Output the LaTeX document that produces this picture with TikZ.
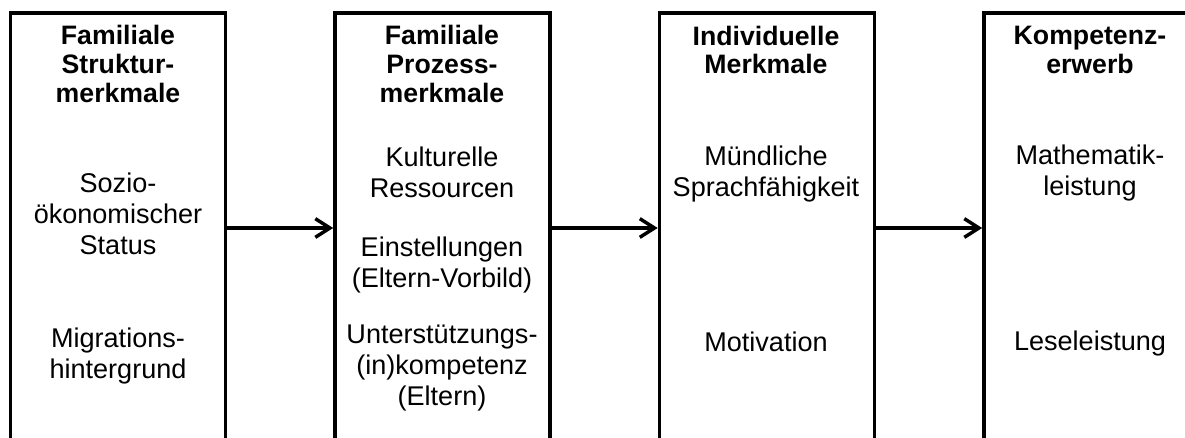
\documentclass[tikz,border=0pt]{standalone}
\usepackage{fontspec}
\setmainfont{Liberation Sans}
\usetikzlibrary{arrows.meta}
\begin{document}
\begin{tikzpicture}[x=0.75pt,y=-0.75pt,
  box/.style={draw, line width=2.7pt, minimum width=161.25pt, minimum height=322.5pt, inner sep=0pt},
  head/.style={font=\fontsize{20}{21.4}\selectfont\bfseries, align=center, inner sep=0pt},
  body/.style={font=\fontsize{20.3}{23.25}\selectfont, align=center, inner sep=0pt},
  arr/.style={line width=2.6pt, -{Straight Barb[length=11pt,width=14pt,line width=2.6pt]}}]
\useasboundingbox (0,0) rectangle (1185,438);
\clip (0,0) rectangle (1185,438);
% boxes
\node[box] (b1) at (118,228) {};
\node[box] (b2) at (442.5,228) {};
\node[box] (b3) at (767,228) {};
\node[box] (b4) at (1091.5,228) {};
% arrows
\draw[arr] (b1.east) -- (b2.west);
\draw[arr] (b2.east) -- (b3.west);
\draw[arr] (b3.east) -- (b4.west);
% box 1
\node[head] (h1) at (118,64) {Familiale\\Struktur-\\merkmale};
\node[body] (t11) at (118,214) {Sozio-\\ökonomischer\\Status};
\node[body] (t12) at (118,356) {Migrations-\\hintergrund};
% box 2
\node[head] (h2) at (442,64) {Familiale\\Prozess-\\merkmale};
\node[body] (t21) at (442,172) {Kulturelle\\Ressourcen};
\node[body] (t22) at (442,265) {Einstellungen\\(Eltern-Vorbild)};
\node[body] (t23) at (442,368) {Unterstützungs-\\(in)kompetenz\\(Eltern)};
% box 3
\node[head] (h3) at (766,50) {Individuelle\\Merkmale};
\node[body] (t31) at (766,174) {Mündliche\\Sprachfähigkeit};
\node[body] (t32) at (766,342) {Motivation};
% box 4
\node[head] (h4) at (1090,50) {Kompetenz-\\erwerb};
\node[body] (t41) at (1090,173) {Mathematik-\\leistung};
\node[body] (t42) at (1090,344) {Leseleistung};
\end{tikzpicture}
\end{document}
